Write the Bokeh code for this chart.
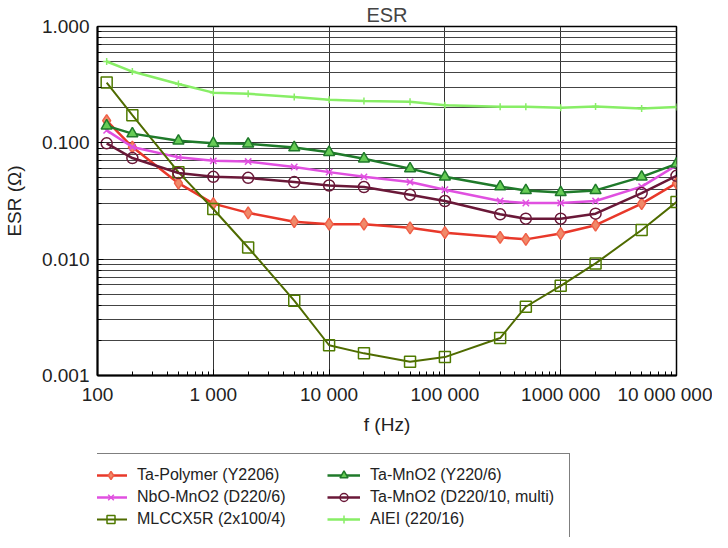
from bokeh.plotting import figure
from bokeh.layouts import column
from bokeh.models import (FixedTicker, CustomJSTickFormatter, Legend, LegendItem, Range1d)
from bokeh.embed import file_html
from bokeh.resources import INLINE

freq = [120, 200, 500, 1000, 2000, 5000, 10000, 20000, 50000, 100000,
        300000, 500000, 1000000, 2000000, 5000000, 10000000]

ta_polymer = [0.155, 0.092, 0.045, 0.030, 0.025, 0.021, 0.020, 0.020, 0.0186, 0.0169,
              0.0154, 0.0148, 0.0166, 0.0196, 0.030, 0.045]
nbo_mno2 = [0.128, 0.092, 0.075, 0.070, 0.069, 0.062, 0.056, 0.051, 0.046, 0.0395,
            0.0316, 0.0304, 0.0304, 0.0316, 0.042, 0.064]
mlcc_x5r = [0.33, 0.173, 0.056, 0.027, 0.0126, 0.0044, 0.00182, 0.00155, 0.00131, 0.00144,
            0.0021, 0.0039, 0.0059, 0.0092, 0.0178, 0.031]
ta_mno2_y = [0.14, 0.12, 0.104, 0.099, 0.098, 0.091, 0.083, 0.073, 0.060, 0.051,
             0.042, 0.039, 0.0375, 0.039, 0.051, 0.066]
ta_mno2_d = [0.099, 0.074, 0.055, 0.051, 0.050, 0.046, 0.043, 0.0417, 0.0358, 0.0316,
             0.0243, 0.0223, 0.0223, 0.0246, 0.037, 0.052]
alel = [0.50, 0.41, 0.32, 0.27, 0.264, 0.248, 0.235, 0.229, 0.226, 0.21,
        0.204, 0.204, 0.20, 0.205, 0.197, 0.203]

x_ticks = [100, 1000, 10000, 100000, 1000000, 10000000]
x_tick_labels = ["100", "1 000", "10 000", "100 000", "1000 000", "10 000 000"]
y_ticks = [0.001, 0.01, 0.1, 1.0]
y_tick_labels = ["0.001", "0.010", "0.100", "1.000"]

FONT = "Liberation Sans"

p = figure(width=712, height=437, x_axis_type="log", y_axis_type="log",
           x_range=Range1d(100, 1e7), y_range=Range1d(0.001, 1.0),
           output_backend="svg", toolbar_location=None,
           min_border_left=92, min_border_right=36, min_border_top=23, min_border_bottom=62,
           title="ESR")
p.title.align = "center"
p.title.text_font = FONT
p.title.text_font_size = "20px"
p.title.text_font_style = "normal"
p.title.standoff = 2

minor_x = [m * 10 ** e for e in range(2, 7) for m in range(2, 10)]
minor_y = [m * 10.0 ** e for e in range(-3, 0) for m in range(2, 10)]

p.xaxis.ticker = FixedTicker(ticks=x_ticks, minor_ticks=minor_x)
p.yaxis.ticker = FixedTicker(ticks=y_ticks, minor_ticks=minor_y)
p.xaxis.formatter = CustomJSTickFormatter(args=dict(labels=x_tick_labels),
    code="return labels[Math.round(Math.log10(tick)) - 2];")
p.yaxis.formatter = CustomJSTickFormatter(args=dict(labels=y_tick_labels),
    code="return labels[Math.round(Math.log10(tick)) + 3];")

for ax in (p.xaxis, p.yaxis):
    ax.major_label_text_font = FONT
    ax.major_label_text_font_size = "19px"
    ax.major_label_text_color = "#222222"
    ax.axis_label_text_font = FONT
    ax.axis_label_text_font_size = "19px"
    ax.axis_label_text_font_style = "normal"
    ax.axis_label_text_color = "#222222"
    ax.axis_line_color = "black"
    ax.axis_line_width = 2
    ax.major_tick_in = 6
    ax.major_tick_out = 0
    ax.minor_tick_in = 4
    ax.minor_tick_out = 0
    ax.major_tick_line_color = "black"
    ax.minor_tick_line_color = "black"
    ax.major_label_standoff = 8

p.xaxis.axis_label = "f (Hz)"
p.yaxis.axis_label = "ESR (Ω)"
p.yaxis.axis_label_standoff = 14
p.xaxis.axis_label_standoff = 6

p.xgrid.grid_line_color = "#333333"
p.xgrid.grid_line_width = 1
p.xgrid.minor_grid_line_color = None
p.ygrid.grid_line_color = "#333333"
p.ygrid.grid_line_width = 1
p.ygrid.minor_grid_line_color = "#444444"
p.ygrid.minor_grid_line_width = 1
p.outline_line_color = "black"
p.outline_line_width = 1.5
p.background_fill_color = "white"
p.border_fill_color = "white"

# legend figure (no visible data area, no axes)
lf = figure(width=712, height=100, x_range=Range1d(0, 1), y_range=Range1d(0, 1),
            x_axis_location=None, y_axis_location=None,
            output_backend="svg", toolbar_location=None,
            min_border_left=0, min_border_right=0, min_border_top=0, min_border_bottom=0)
lf.grid.visible = False
lf.outline_line_color = None

styles = [
    ("Ta-Polymer (Y2206)", ta_polymer, "#e8382a", "diamond", 12, "#f08a6a", "#f06048", 2.5),
    ("NbO-MnO2 (D220/6)", nbo_mno2, "#e050e0", "x", 9, None, "#e050e0", 2.5),
    ("MLCCX5R (2x100/4)", mlcc_x5r, "#4f6b00", "square", 11, None, "#4f7a00", 2),
    ("Ta-MnO2 (Y220/6)", ta_mno2_y, "#1f7a2a", "triangle", 11, "#66cc55", "#1f7a2a", 2.5),
    ("Ta-MnO2 (D220/10, multi)", ta_mno2_d, "#6a1838", "circle", 11, None, "#6a1838", 2.5),
    ("AIEI (220/16)", alel, "#88ee66", "cross", 7, None, "#88ee66", 2.5),
]

items = []
for name, ys, lc, mk, ms, fc, ml, lw in styles:
    p.line(freq, ys, line_color=lc, line_width=lw)
    p.scatter(freq, ys, marker=mk, size=ms, fill_color=fc, line_color=ml, line_width=1.5)
    l2 = lf.line(freq, ys, line_color=lc, line_width=lw)
    s2 = lf.scatter(freq, ys, marker=mk, size=ms, fill_color=fc, line_color=ml, line_width=1.5)
    items.append(LegendItem(label=name, renderers=[l2, s2]))

legend = Legend(items=items, location=(-15, -4), ncols=2)
legend.label_text_font = FONT
legend.label_text_font_size = "16px"
legend.label_text_color = "#222222"
legend.glyph_width = 33
legend.glyph_height = 20
legend.label_height = 20
legend.label_width = 188
legend.label_standoff = 10
legend.spacing = 2
legend.padding = 11
legend.margin = 0
legend.border_line_color = "black"
legend.border_line_width = 1.5
legend.background_fill_alpha = 1
lf.add_layout(legend, "center")

layout = column(p, lf, spacing=0)
open("out.html", "w").write(file_html(layout, INLINE))
